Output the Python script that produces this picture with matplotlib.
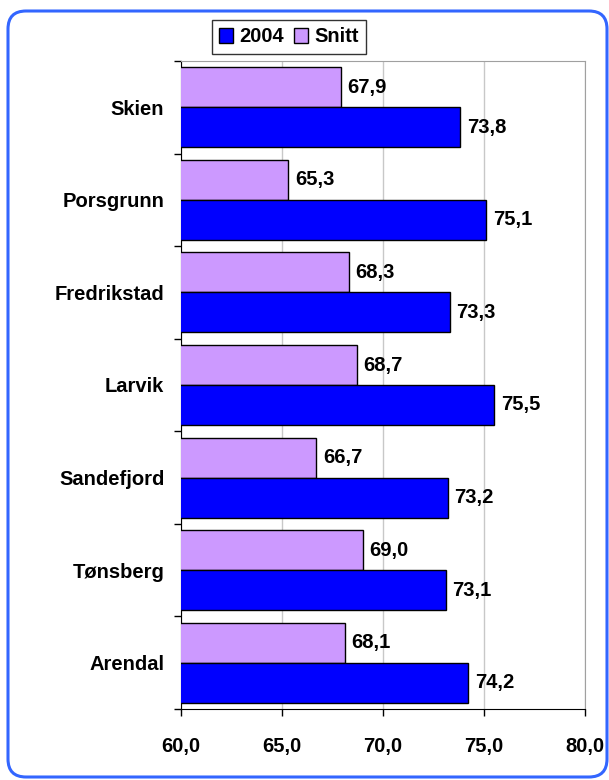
import matplotlib
matplotlib.use("Agg")
import matplotlib.pyplot as plt
from matplotlib.patches import FancyBboxPatch, Patch
from matplotlib.transforms import IdentityTransform
import numpy as np

# data, top to bottom
byer = ["Skien", "Porsgrunn", "Fredrikstad", "Larvik", "Sandefjord", "Tønsberg", "Arendal"]
verdi_2004 = [73.8, 75.1, 73.3, 75.5, 73.2, 73.1, 74.2]
verdi_snitt = [67.9, 65.3, 68.3, 68.7, 66.7, 69.0, 68.1]
x_ticks = [60, 65, 70, 75, 80]

plt.rcParams['font.family'] = ['Liberation Sans', 'DejaVu Sans']
plt.rcParams['font.weight'] = 'bold'
fs = 14.5

blue = "#0000FF"
lilla = "#CC99FF"

fig = plt.figure(figsize=(6.09, 7.8), dpi=100)
ax = fig.add_axes([181/609, 71/780, 404/609, 648/780])

n = len(byer)
y = np.arange(n)[::-1]
h = 0.432

ax.barh(y + h/2, verdi_snitt, height=h, color=lilla, edgecolor="black", linewidth=1, zorder=3)
ax.barh(y - h/2, verdi_2004, height=h, color=blue, edgecolor="black", linewidth=1, zorder=3)

for yy, v in zip(y, verdi_snitt):
    ax.annotate(f"{v:.1f}".replace(".", ","), (v, yy + h/2), xytext=(5, 0), textcoords="offset points",
                va="center", ha="left", fontsize=fs, fontweight="bold")
for yy, v in zip(y, verdi_2004):
    ax.annotate(f"{v:.1f}".replace(".", ","), (v, yy - h/2), xytext=(5, 0), textcoords="offset points",
                va="center", ha="left", fontsize=fs, fontweight="bold")

ax.set_xlim(60, 80)
ax.set_ylim(-0.5, n - 0.5)
ax.set_xticks(x_ticks)
ax.set_xticklabels([f"{t:.1f}".replace(".", ",") for t in x_ticks], fontsize=fs, fontweight="bold")
ax.set_yticks(y)
ax.set_yticklabels(byer, fontsize=fs, fontweight="bold")
ax.set_yticks(np.arange(n + 1) - 0.5, minor=True)
ax.tick_params(axis="y", which="major", length=0, pad=12)
ax.tick_params(axis="y", which="minor", length=5, width=1, direction="out")
ax.tick_params(axis="x", length=5, width=1, direction="out", pad=15)

ax.xaxis.grid(True, color="#C8C8C8", linewidth=1, zorder=0)
ax.set_axisbelow(True)
ax.spines["top"].set_color("#A0A0A0")
ax.spines["right"].set_color("#A0A0A0")
ax.spines["left"].set_color("black")
ax.spines["bottom"].set_color("black")

handles = [Patch(facecolor=blue, edgecolor="black"), Patch(facecolor=lilla, edgecolor="black")]
leg = fig.legend(handles, ["2004", "Snitt"], loc="center", bbox_to_anchor=(289/609, 1 - 37/780),
                 ncol=2, frameon=True, fancybox=False, prop={"weight": "bold", "size": fs},
                 handlelength=0.7, handleheight=0.7, handletextpad=0.3, columnspacing=0.5,
                 borderpad=0.35, borderaxespad=0)
leg.get_frame().set_edgecolor("black")
leg.get_frame().set_linewidth(1)

# rounded outer frame in pixel coords
ramme = FancyBboxPatch((8, 3), 599, 766, boxstyle="round,pad=0,rounding_size=18",
                       transform=IdentityTransform(), facecolor="none", edgecolor="#3366FF",
                       linewidth=2.2, zorder=10)
fig.patches.append(ramme)

fig.savefig("out.png", dpi=100)
